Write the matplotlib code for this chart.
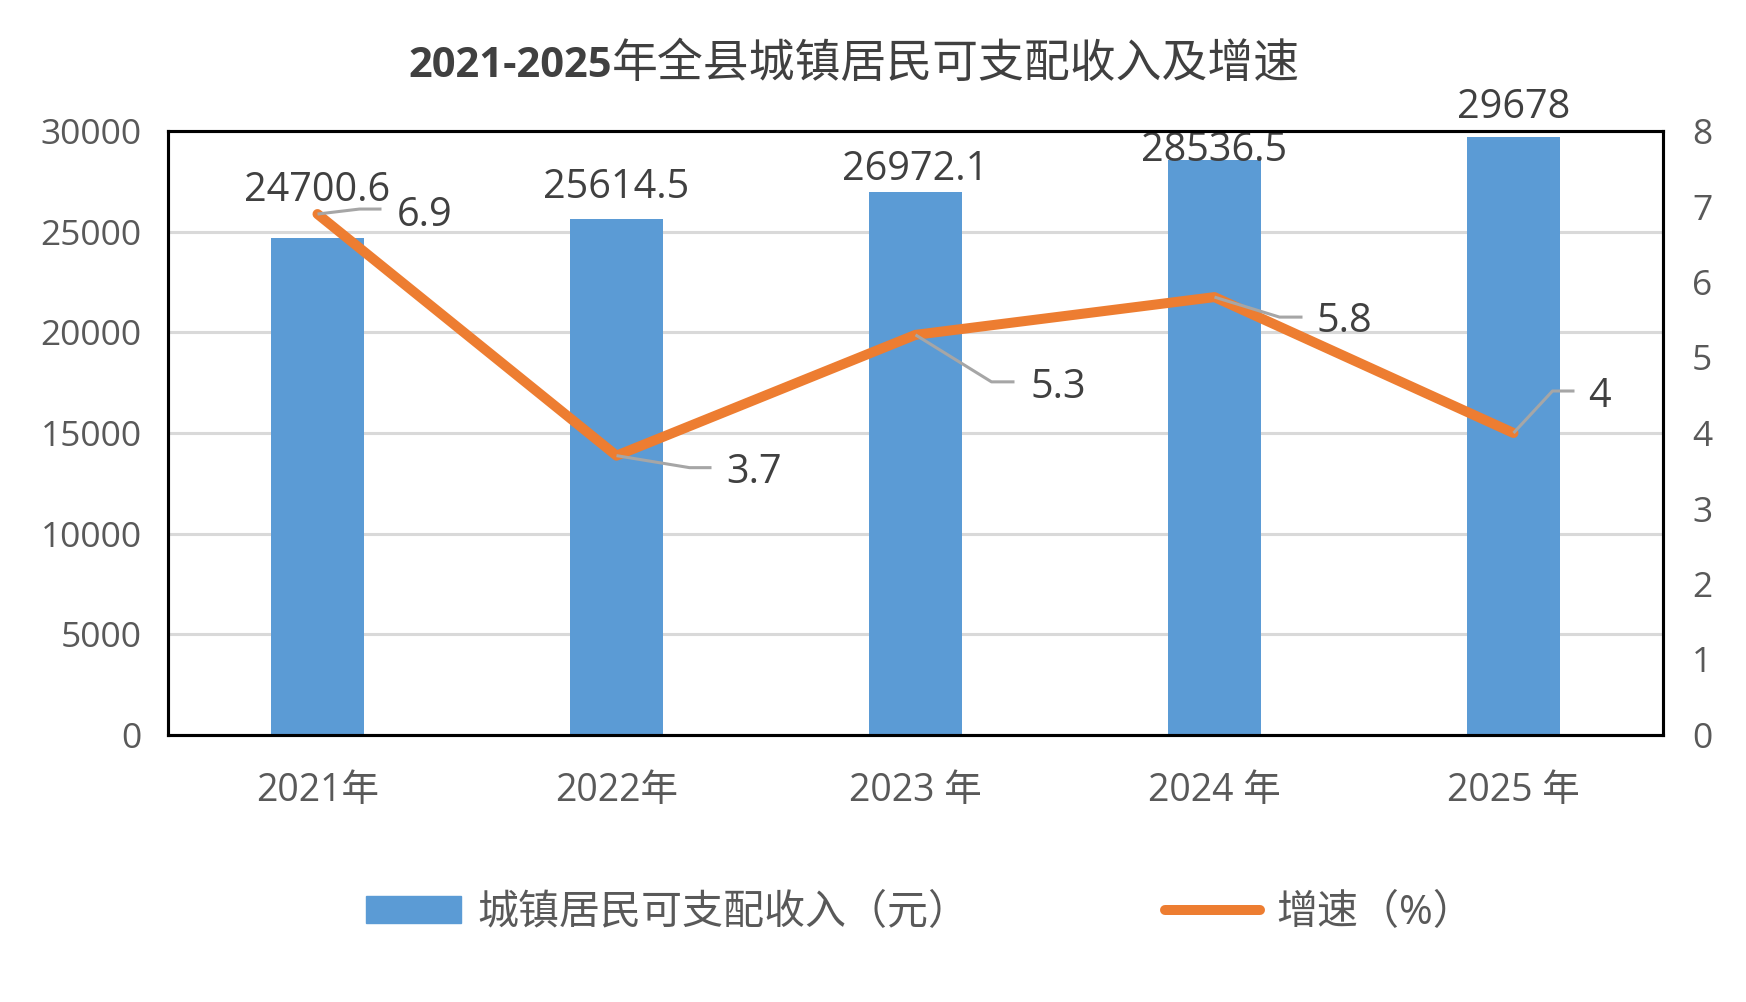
import matplotlib
matplotlib.use("Agg")
import matplotlib.pyplot as plt
import numpy as np
from matplotlib.lines import Line2D
from matplotlib.patches import Patch

plt.rcParams['font.family'] = ['Open Sans', 'Noto Sans CJK SC', 'DejaVu Sans']

# ---- data ----
categories = ["2021年", "2022年", "2023 年", "2024 年", "2025 年"]
income = [24700.6, 25614.5, 26972.1, 28536.5, 29678]
growth = [6.9, 3.7, 5.3, 5.8, 4]
income_label = "城镇居民可支配收入（元）"
growth_label = "增速（%）"
title_num = "2021-2025"
title_cjk = "年全县城镇居民可支配收入及增速"

# ---- styles / label placement (pixels) ----
bar_color = "#5B9BD5"
line_color = "#ED7D31"
bar_label_off = [47, 32, 22, 10, 30]  # label centre above bar top
# leader: (elbow dx, elbow dy, end dx, text dx, text dy)  dy positive = down
leader = [(42, -5, 64, 79, 2),
          (73, 12, 95, 110, 17),
          (76, 47, 99, 115, 53),
          (65, 20, 88, 102, 25),
          (39, -42, 61, 75, -36)]

W, H = 1746, 1002
fig = plt.figure(figsize=(W / 100, H / 100), dpi=100)
L, R, T, B = 168, 1663, 131, 735
ax = fig.add_axes([L / W, 1 - B / H, (R - L) / W, (B - T) / H])
ax2 = ax.twinx()

x = np.arange(len(categories))
ax.bar(x, income, width=0.314, color=bar_color, zorder=2)
ax.set_xlim(-0.5, len(categories) - 0.5)
ax.set_ylim(0, 30000)
ax.set_yticks(np.arange(0, 30001, 5000))
ax.yaxis.grid(True, color="#D9D9D9", lw=2.2, zorder=0)
ax.set_axisbelow(True)
ax.set_xticks(x)
ax.set_xticklabels(categories)
ax.tick_params(axis='y', length=0, pad=19, labelsize=25.5, labelcolor="#595959")
ax.tick_params(axis='x', length=0, pad=27, labelsize=27, labelcolor="#595959")

ax2.set_ylim(0, 8)
ax2.set_yticks(np.arange(0, 9, 1))
ax2.tick_params(axis='y', length=0, pad=21, labelsize=25.5, labelcolor="#595959")

for a in (ax, ax2):
    for s in a.spines.values():
        s.set_color("black")
        s.set_linewidth(2.2)

ax2.plot(x, growth, color=line_color, lw=7.2, solid_capstyle='round',
         solid_joinstyle='round', zorder=3)

# bar value labels
for i, v in enumerate(income):
    ax.annotate(f"{v:g}", xy=(i, v), xytext=(0, bar_label_off[i]),
                textcoords='offset pixels', ha='center', va='center',
                fontsize=28.5, color="#404040", zorder=5)

# line value labels with leader lines
inv = ax2.transData.inverted()
for i, g in enumerate(growth):
    px, py = ax2.transData.transform((i, g))
    ex, ey, endx, tx, ty = leader[i]
    pts = np.array([[px, py], [px + ex, py - ey], [px + endx, py - ey]])
    dpts = inv.transform(pts)
    ax2.plot(dpts[:, 0], dpts[:, 1], color="#A6A6A6", lw=2.2, zorder=4,
             clip_on=False, solid_capstyle='butt')
    ax2.annotate(f"{g:g}", xy=(i, g), xytext=(tx, -ty),
                 textcoords='offset pixels', ha='left', va='center',
                 fontsize=28.5, color="#404040", zorder=5)

# legend
fs_leg = 29.5
em = fs_leg * 100 / 72
handles = [Patch(facecolor=bar_color, edgecolor=bar_color),
           Line2D([0], [0], color=line_color, lw=7.2, solid_capstyle='round')]
fig.legend(handles, [income_label, growth_label], loc='center left',
           bbox_to_anchor=(366 / W, 1 - 914 / H), ncol=2, frameon=False,
           fontsize=fs_leg, labelcolor="#595959", handlelength=95 / em,
           handleheight=26 / em, handletextpad=16 / em, columnspacing=196 / em,
           borderpad=0, borderaxespad=0)

# title (bold digits + regular CJK)
base_y = 1 - 77 / H
t1 = fig.text(0, base_y, title_num, fontsize=30, fontweight='bold',
              color="#404040", ha='left', va='baseline',
              family=['Open Sans', 'Noto Sans CJK SC'])
t2 = fig.text(0, base_y, title_cjk, fontsize=33, color="#404040",
              ha='left', va='baseline', family=['Noto Sans CJK SC'])
renderer = fig.canvas.get_renderer()
w1 = t1.get_window_extent(renderer).width
w2 = t2.get_window_extent(renderer).width
start = 854 - (w1 + w2) / 2
t1.set_x(start / W)
t2.set_x((start + w1) / W)

fig.savefig("out.png", dpi=100)
